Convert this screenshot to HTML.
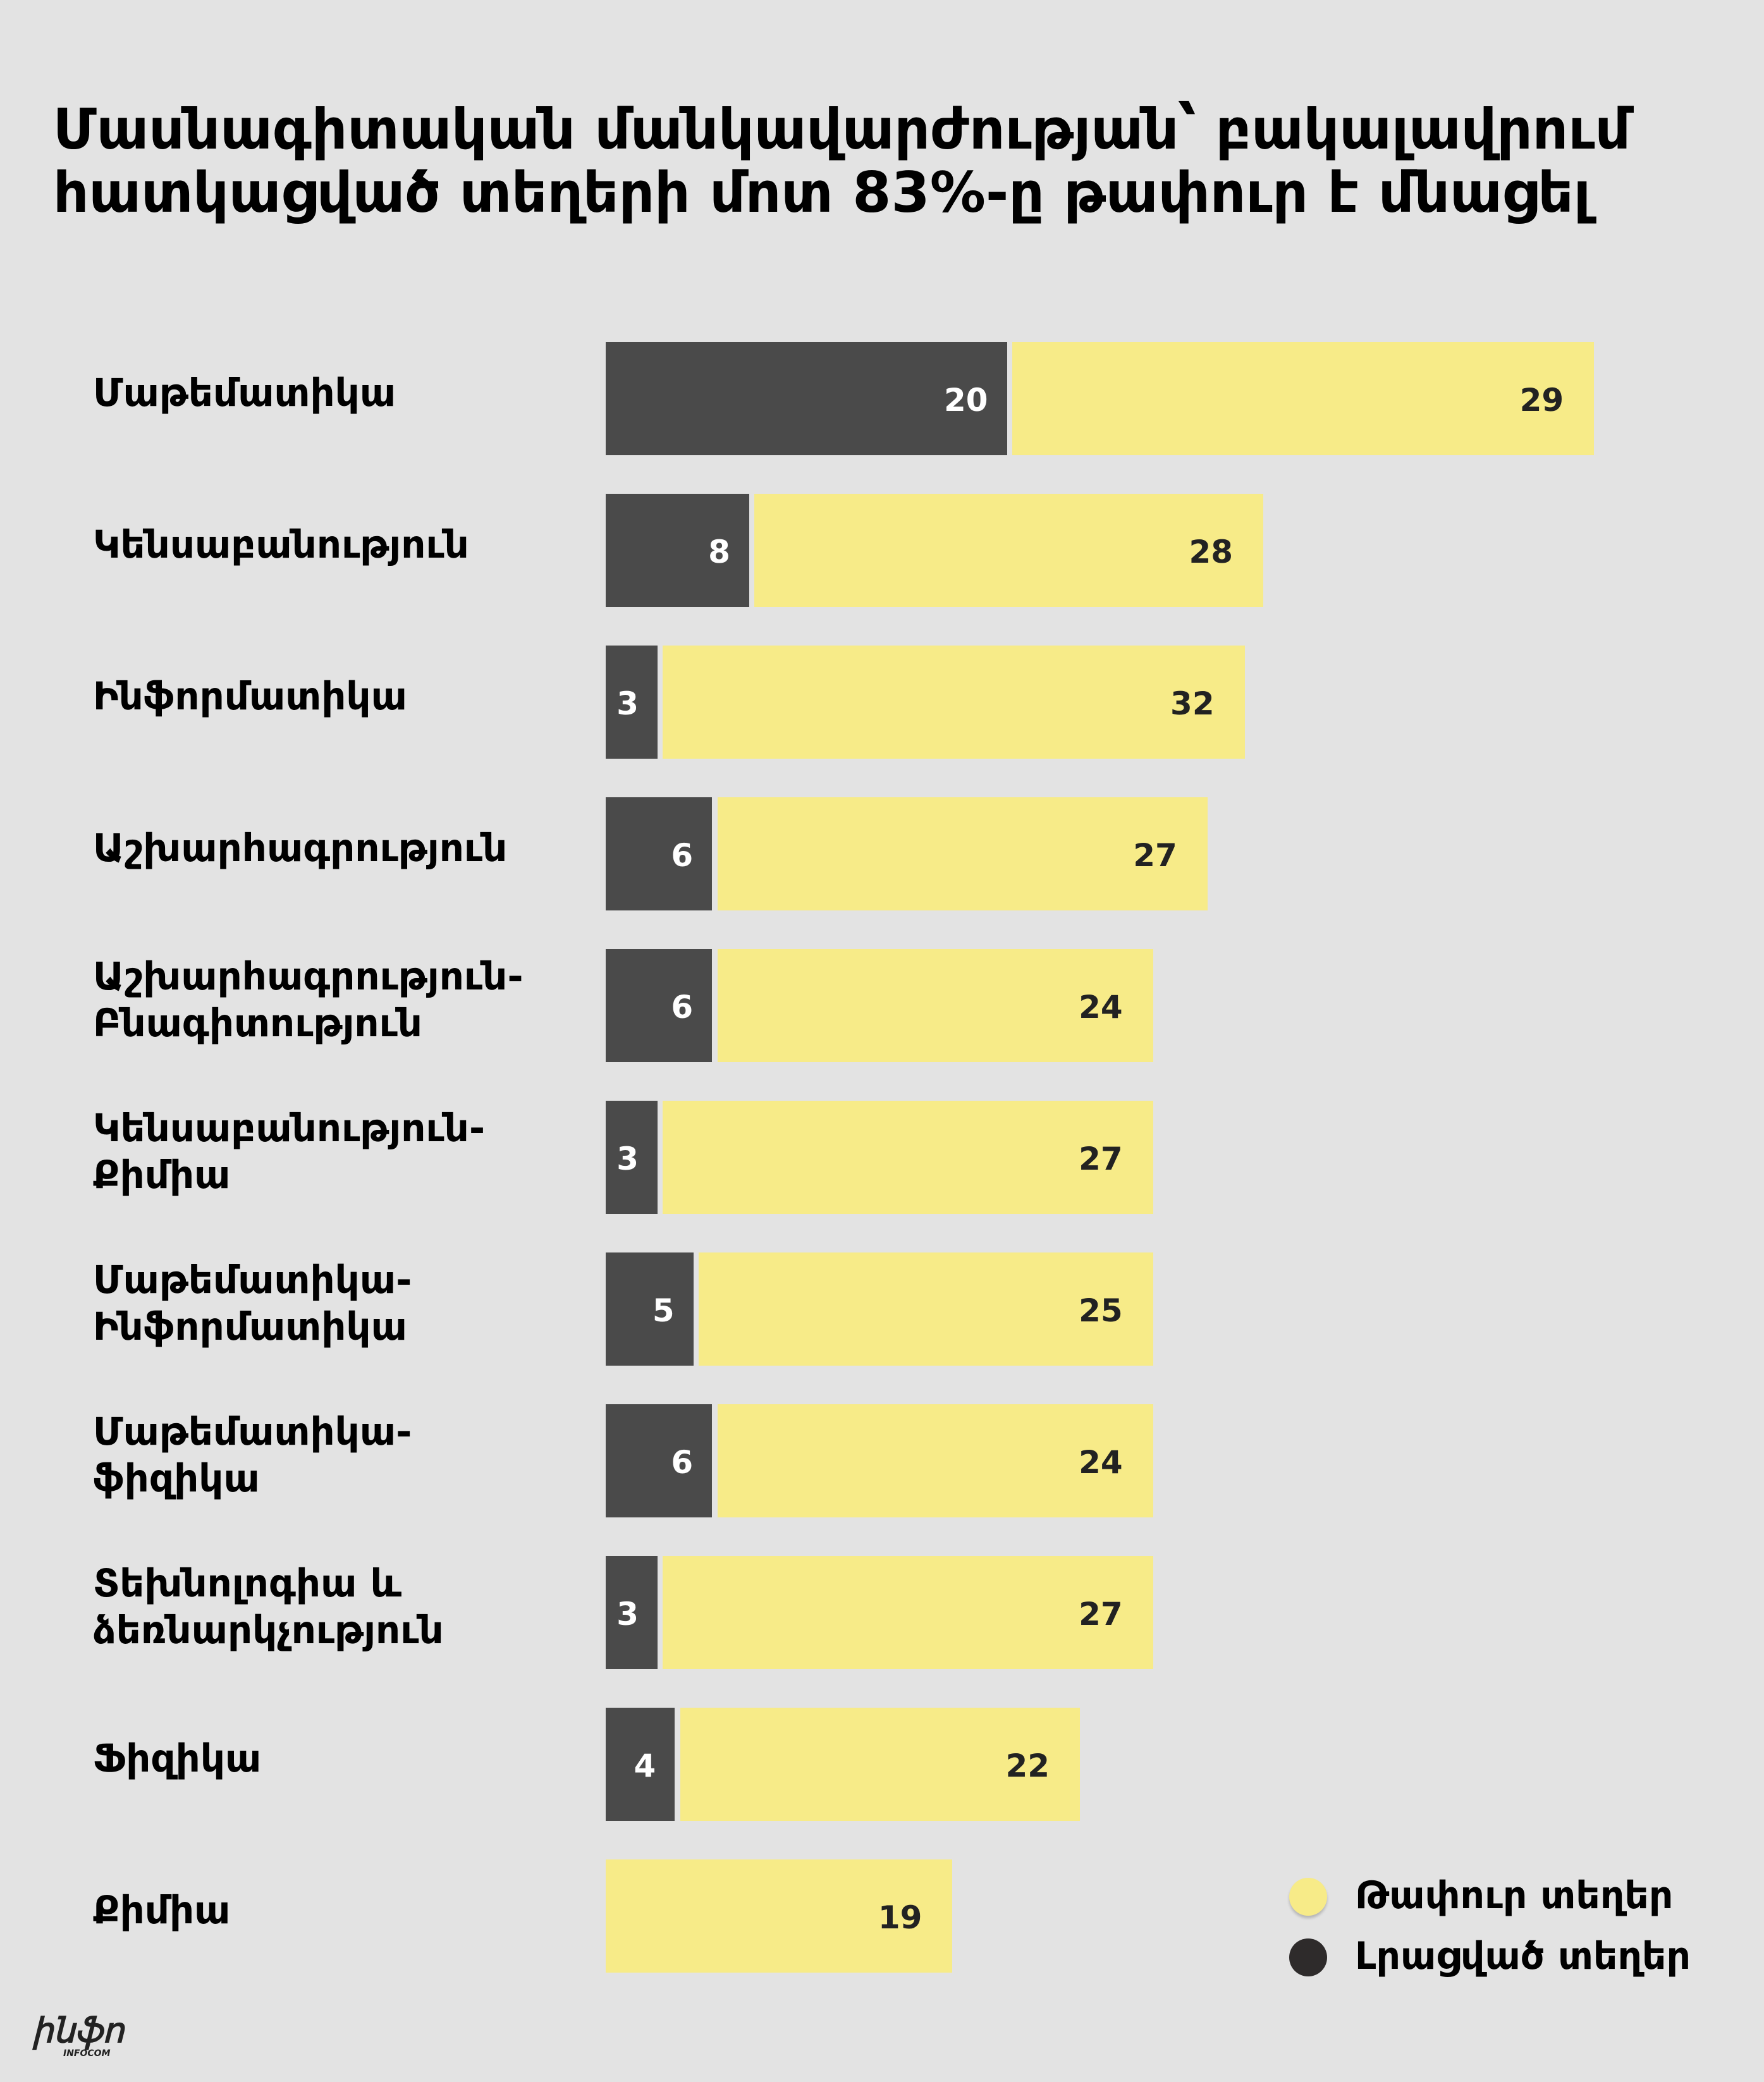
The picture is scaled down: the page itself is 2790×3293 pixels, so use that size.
<!DOCTYPE html>
<html><head><meta charset="utf-8"><style>
body{margin:0;width:2790px;height:3293px;background:#e3e3e3;position:relative;overflow:hidden;font-family:"DejaVu Sans","Liberation Sans",sans-serif;font-weight:bold;color:#000}
.t{position:absolute;left:84px;font-size:88px;line-height:100px;white-space:nowrap}
.l{position:absolute;left:147px;font-size:61px;line-height:74px;white-space:nowrap;transform:translateY(-50%)}
.b{position:absolute;height:179px}
.d{background:#4a4a4a}
.y{background:#f7eb88}
.n{position:absolute;font-size:50px;line-height:179px;text-align:right}
.lg{position:absolute;font-size:60px;white-space:nowrap;transform:translateY(-50%)}
.c{position:absolute;width:60px;height:60px;border-radius:50%}
</style></head><body>
<div class="t" style="top:155px">Մասնագիտական մանկավարժության՝ բակալավրում</div>
<div class="t" style="top:255px">հատկացված տեղերի մոտ 83%-ը թափուր է մնացել</div>
<div id="c"></div>
<script>
var d=[["Մաթեմատիկա",20,758,29,1200],["Կենսաբանություն",8,564,28,951],["Ինֆորմատիկա",3,495,32,937],["Աշխարհագրություն",6,536,27,909],["Աշխարհագրություն-<br>Բնագիտություն",6,536,24,868],["Կենսաբանություն-<br>Քիմիա",3,495,27,868],["Մաթեմատիկա-<br>Ինֆորմատիկա",5,522,25,868],["Մաթեմատիկա-<br>ֆիզիկա",6,536,24,868],["Տեխնոլոգիա և<br>ձեռնարկչություն",3,495,27,868],["Ֆիզիկա",4,508,22,813],["Քիմիա",0,456,19,717]];
var s=2.101,x0=456*s,h="";
d.forEach(function(r,i){var top=541+i*240;var cy=top+89;
h+='<div class="l" style="top:'+(cy-8)+'px">'+r[0]+'</div>';
var yx=x0;
if(r[1]>0){var dw=(r[2]-456)*s;h+='<div class="b d" style="left:'+x0+'px;top:'+top+'px;width:'+dw+'px"></div>';
h+='<div class="n" style="color:#fff;left:'+x0+'px;width:'+(dw-30)+'px;top:'+(top+3)+'px">'+r[1]+'</div>';yx=(r[2]+4)*s;}
var yw=r[4]*s-yx;
h+='<div class="b y" style="left:'+yx+'px;top:'+top+'px;width:'+yw+'px"></div>';
h+='<div class="n" style="color:#222;left:'+yx+'px;width:'+(yw-48)+'px;top:'+(top+3)+'px">'+r[3]+'</div>';});
document.getElementById('c').innerHTML=h;
</script>
<div class="c" style="left:2039px;top:2970px;background:#f7eb88;box-shadow:0 4px 4px rgba(0,0,0,.2)"></div>
<div class="c" style="left:2039px;top:3066px;background:#2e2b2b"></div>
<div class="lg" style="left:2143px;top:2998px">Թափուր տեղեր</div>
<div class="lg" style="left:2143px;top:3094px">Լրացված տեղեր</div>
<div style="position:absolute;left:50px;top:3180px;font-size:54px;font-style:italic;color:#222;font-family:'Liberation Serif',serif">ինֆո</div>
<div style="position:absolute;left:100px;top:3240px;font-size:14px;font-style:italic;color:#222">INFOCOM</div>
</body></html>
